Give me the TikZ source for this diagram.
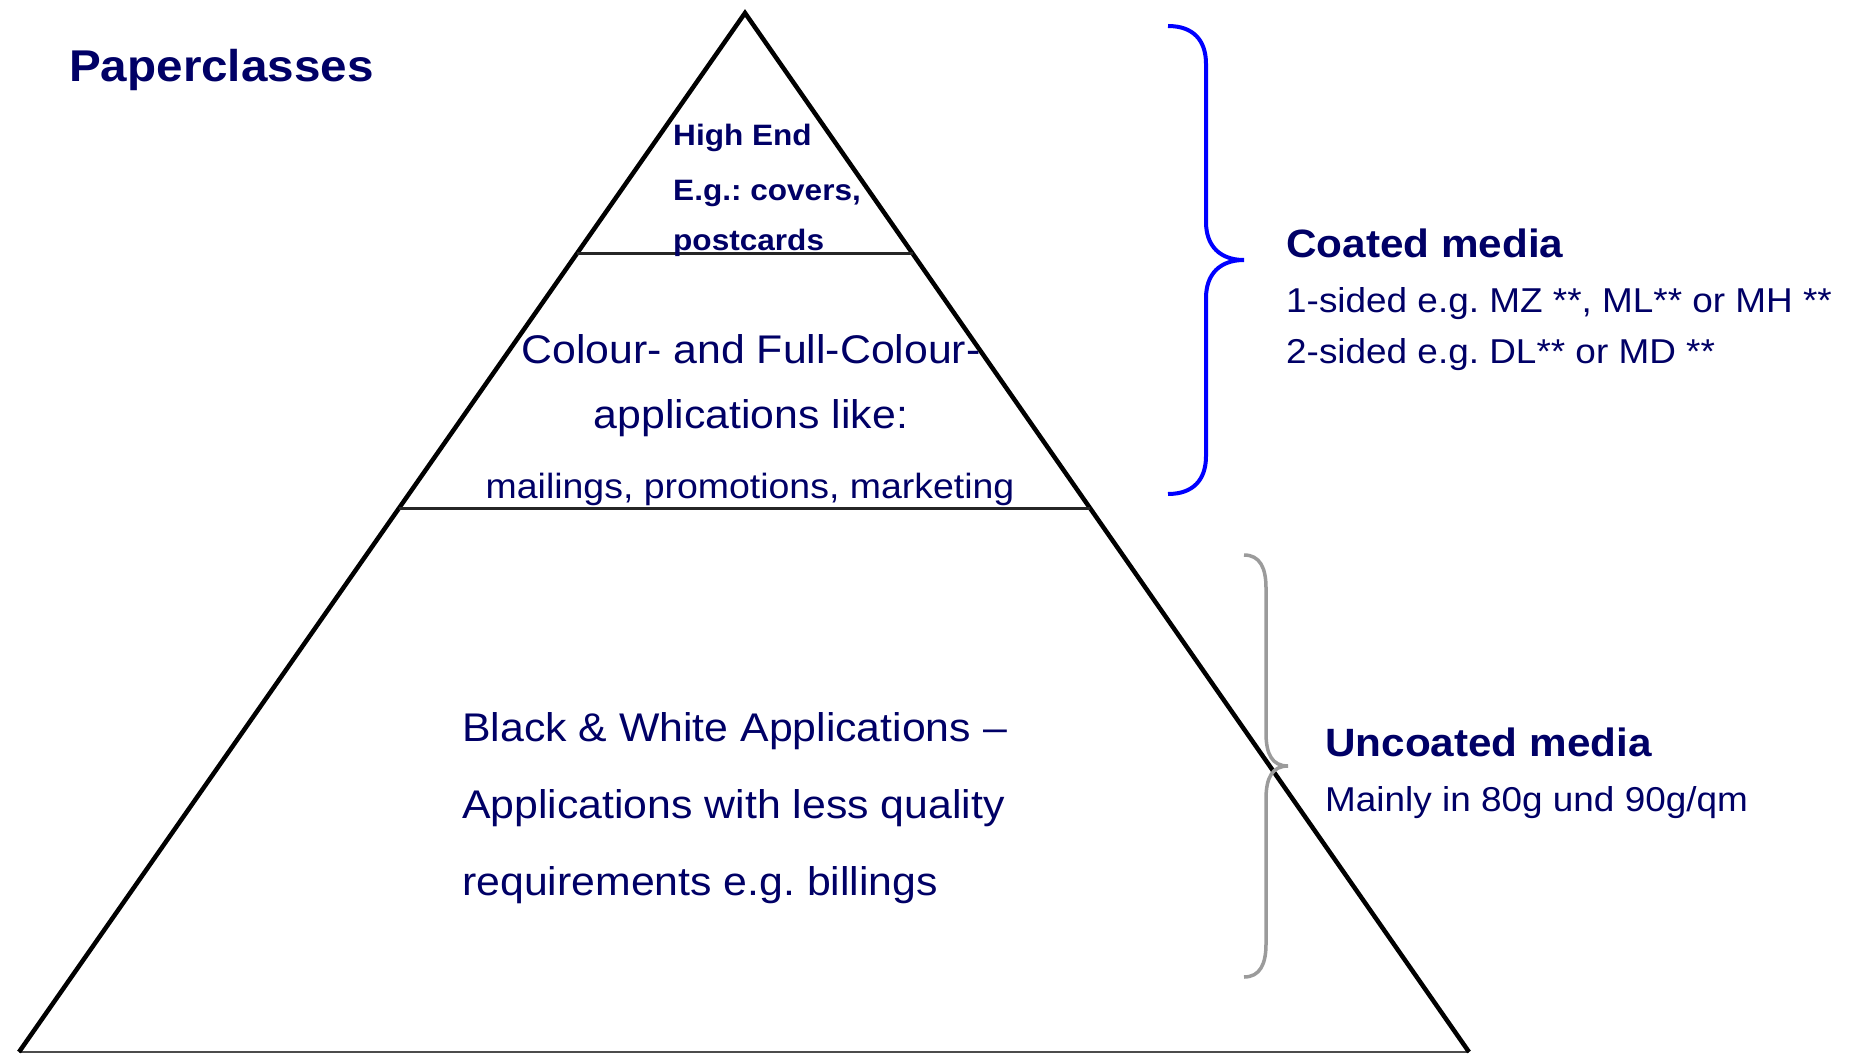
\documentclass[tikz,border=0pt]{standalone}
\usepackage{fontspec}
\setmainfont[FakeStretch=1.07]{Liberation Sans}
\usetikzlibrary{calc}
\frenchspacing
\definecolor{navy}{RGB}{0,0,102}
\definecolor{bracegray}{RGB}{155,155,155}
\tikzstyle{heading} = [
    anchor=base west,
    inner sep=0pt,
    text=navy,
    font=\bfseries
]
\tikzstyle{label} = [
    anchor=base west,
    inner sep=0pt,
    text=navy
]
\tikzstyle{side} = [
    draw=black,
    line width=4.5pt,
    line join=miter
]
\tikzstyle{layer} = [
    draw=black!85,
    line width=3pt
]
\tikzstyle{brace} = [
    line width=4pt,
    line cap=butt
]

\begin{document}
\begin{tikzpicture}[x=1pt, y=-1pt]
    \useasboundingbox (0,0) rectangle (1851,1054);

    % pyramid
    \coordinate (apex) at (745,13);
    \coordinate (bl) at (19,1052);
    \coordinate (br) at (1469,1052);
    \draw[black!70, line width=1.5pt] (bl) -- (br);
    \draw[side] (bl) -- (apex) -- (br);
    \draw[layer] ($(apex)!0.2317!(bl)$) -- ($(apex)!0.2317!(br)$);
    \draw[layer] ($(apex)!0.4769!(bl)$) -- ($(apex)!0.4769!(br)$);

    \node[heading, font=\bfseries\fontsize{44.5}{54}\selectfont] (title) at (69,82) {Paperclasses};

    % top level
    \node[heading, font=\bfseries\fontsize{29.5}{34}\selectfont] (high) at (673,145) {High End};
    \node[heading, font=\bfseries\fontsize{29.5}{34}\selectfont] (eg) at (673,200) {E.g.: covers,};
    \node[heading, font=\bfseries\fontsize{29.5}{34}\selectfont] (cards) at (673,250) {postcards};

    % middle level
    \node[label, anchor=base, font=\fontsize{40}{48}\selectfont] (colour) at (751,363) {Colour- and Full-Colour-};
    \node[label, anchor=base, font=\fontsize{40}{48}\selectfont] (appl) at (751,428) {applications like:};
    \node[label, anchor=base, font=\fontsize{35}{42}\selectfont] (mail) at (750,498) {mailings, promotions, marketing};

    % bottom level
    \node[label, font=\fontsize{40}{48}\selectfont] (bw) at (462,741) {Black \& White Applications --};
    \node[label, font=\fontsize{40}{48}\selectfont] (less) at (462,818) {Applications with less quality};
    \node[label, font=\fontsize{40}{48}\selectfont] (req) at (462,895) {requirements e.g. billings};

    % coated
    \draw[brace, blue] (1168,26) .. controls (1193,26) and (1206,40) .. (1206,64)
        -- (1206,222) .. controls (1206,246) and (1220,260) .. (1244,260)
        .. controls (1220,260) and (1206,274) .. (1206,298)
        -- (1206,456) .. controls (1206,480) and (1193,494) .. (1168,494);
    \node[heading, font=\bfseries\fontsize{39.5}{46}\selectfont] (coated) at (1286,257) {Coated media};
    \node[label, font=\fontsize{34.5}{41}\selectfont] (one) at (1286,312) {1-sided e.g. MZ **, ML** or MH **};
    \node[label, font=\fontsize{34.5}{41}\selectfont] (two) at (1286,363) {2-sided e.g. DL** or MD **};

    % uncoated
    \draw[brace, bracegray, line width=3.5pt] (1244,555) .. controls (1260,555) and (1266,568) .. (1266,588)
        -- (1266,733) .. controls (1266,754) and (1272,766) .. (1288,766)
        .. controls (1272,766) and (1266,778) .. (1266,799)
        -- (1266,944) .. controls (1266,964) and (1260,977) .. (1244,977);
    \node[heading, font=\bfseries\fontsize{39.5}{47}\selectfont] (uncoated) at (1325,756) {Uncoated media};
    \node[label, font=\fontsize{34.5}{41}\selectfont] (mainly) at (1325,811) {Mainly in 80g und 90g/qm};
\end{tikzpicture}
\end{document}
